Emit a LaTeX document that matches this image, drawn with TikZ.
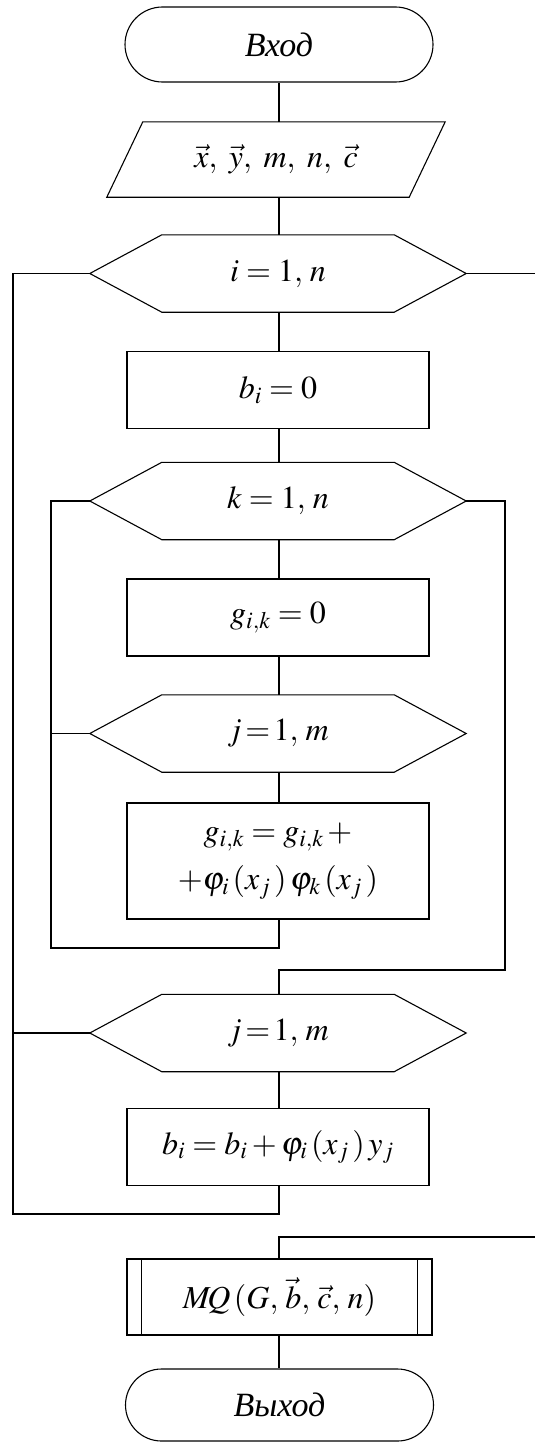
\documentclass[tikz,border=0pt]{standalone}
\usepackage{mathptmx}
\usepackage{fontspec}
\setmainfont{Liberation Serif}
\usetikzlibrary{shapes.misc,calc}
\tikzset{
  line/.style={line width=1.1pt},
  term/.style={rounded rectangle, draw, line width=1.1pt, minimum width=308pt, minimum height=75pt, inner sep=0pt, font=\fontsize{34}{40}\selectfont\itshape},
  proc/.style={rectangle, draw, line width=1.1pt, minimum width=302pt, minimum height=77pt, inner sep=0pt, font=\fontsize{32}{38}\selectfont},
  hexnode/.style={rectangle, minimum width=376pt, minimum height=77pt, inner sep=0pt, font=\fontsize{32}{38}\selectfont},
  ionode/.style={rectangle, minimum width=302pt, minimum height=75pt, inner sep=0pt, font=\fontsize{32}{38}\selectfont},
}
\newcommand\hexout[1]{\draw[line] (#1.west) -- ($(#1.north west)+(72pt,0pt)$) -- ($(#1.north east)+(-72pt,0pt)$) -- (#1.east) -- ($(#1.south east)+(-72pt,0pt)$) -- ($(#1.south west)+(72pt,0pt)$) -- cycle;}
\begin{document}
\begin{tikzpicture}[x=1pt,y=-1pt]
\useasboundingbox (0,0) rectangle (535,1445);
\fill[white] (0,0) rectangle (535,1445);
% nodes
\node[term] (start) at (279,44.5) {Вход};
\node[ionode] (io) at (276,159.5) {$\vec{x},\ \vec{y},\ m,\ n,\ \vec{c}$};
\node[hexnode] (li) at (278,273.5) {$i=1,\,n$};
\node[proc] (bz) at (278,390) {$b_i=0$};
\node[hexnode] (lk) at (278,501) {$k=1,\,n$};
\node[proc] (gz) at (278,617.5) {$g_{i,k}=0$};
\node[hexnode] (lj) at (278,733.5) {$j\!=\!1,\,m$};
\node[proc, minimum height=116pt, align=center] (gu) at (278,861)
  {$g_{i,k}=g_{i,k}\,+$\\[10pt]$+\varphi_i\,(x_j\,)\,\varphi_k\,(x_j\,)$};
\node[hexnode] (lj2) at (278,1033) {$j\!=\!1,\,m$};
\node[proc] (bu) at (278,1147) {$b_i=b_i+\varphi_i\,(x_j\,)\,y_j$};
\node[proc, minimum width=305pt, minimum height=76pt] (mq) at (279.5,1297) {$M\!Q\,(G,\,\vec{b},\,\vec{c},\,n)$};
\node[term, minimum height=72pt] (stop) at (279.5,1405) {Выход};
% shapes
\draw[line] ($(io.north west)+(18pt,0pt)$) -- ($(io.north east)+(18pt,0pt)$) -- ($(io.south east)+(-18pt,0pt)$) -- ($(io.south west)+(-18pt,0pt)$) -- cycle;
\hexout{li}
\hexout{lk}
\hexout{lj}
\hexout{lj2}
\draw[line] ($(mq.north west)+(15pt,0pt)$) -- ($(mq.south west)+(15pt,0pt)$);
\draw[line] ($(mq.north east)+(-15pt,0pt)$) -- ($(mq.south east)+(-15pt,0pt)$);
% coordinates
\coordinate (oL1) at (13,273.5);
\coordinate (oL2) at (13,1214);
\coordinate (oB) at (279,1214);
\coordinate (oJ) at (13,1033);
\coordinate (oR) at (535,273.5);
\coordinate (iL1) at (51,501);
\coordinate (iL2) at (51,948);
\coordinate (iB) at (279,948);
\coordinate (iJ) at (51,733.5);
\coordinate (rA) at (505,501);
\coordinate (rB) at (505,970);
\coordinate (rC) at (279,970);
\coordinate (mA) at (279,1237);
\coordinate (mB) at (535,1237);
% connectors
\draw[line] (start.south) -- (start.south |- io.north);
\draw[line] (io.south -| 279,0) -- (li.north -| 279,0);
\draw[line] (li.south -| 279,0) -- (bz.north -| 279,0);
\draw[line] (bz.south -| 279,0) -- (lk.north -| 279,0);
\draw[line] (lk.south -| 279,0) -- (gz.north -| 279,0);
\draw[line] (gz.south -| 279,0) -- (lj.north -| 279,0);
\draw[line] (lj.south -| 279,0) -- (gu.north -| 279,0);
\draw[line] (lj2.south -| 279,0) -- (bu.north -| 279,0);
\draw[line] (mq.south -| 279,0) -- (stop.north -| 279,0);
\draw[line] (li.west) -- (oL1) -- (oL2) -- (oB) -- (bu.south -| oB);
\draw[line] (lj2.west) -- (oJ);
\draw[line] (li.east) -- (oR);
\draw[line] (lk.west) -- (iL1) -- (iL2) -- (iB) -- (gu.south -| iB);
\draw[line] (lj.west) -- (iJ);
\draw[line] (lk.east) -- (rA) -- (rB) -- (rC) -- (lj2.north -| rC);
\draw[line] (mq.north -| mA) -- (mA) -- (mB);
\end{tikzpicture}
\end{document}
